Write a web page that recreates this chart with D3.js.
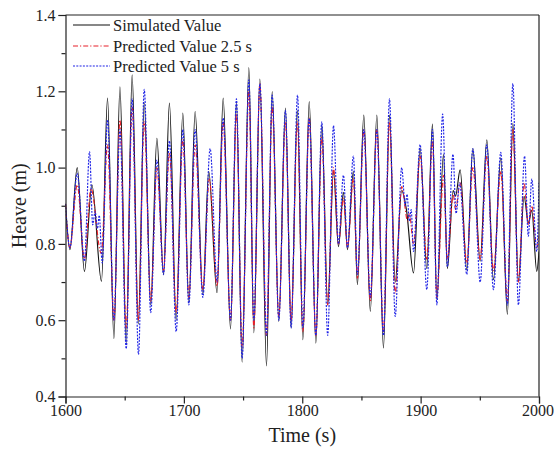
<!DOCTYPE html>
<html>
<head>
<meta charset="utf-8">
<script src="https://cdn.jsdelivr.net/npm/d3@7/dist/d3.min.js"></script>
<style>
  html, body { margin: 0; padding: 0; background: #fff; }
  svg { display: block; }
  text { font-family: "Liberation Serif", "Times New Roman", serif; fill: #222; }
</style>
</head>
<body>
<svg id="chart" width="554" height="460"></svg>
<script>
// ---- Data ----
const seriesNames = ["Simulated Value", "Predicted Value 2.5 s", "Predicted Value 5 s"];

const simTime = [1600,1603.7,1609.9,1616,1622.3,1630.4,1635.5,1640.9,1646,1651.3,1656.3,1661.5,1666.5,1672,1677.2,1682.8,1687.8,1693.5,1699.1,1704.2,1709.5,1716,1721,1728,1733.2,1739.4,1744.4,1749.2,1754.9,1759.1,1764.2,1769.8,1774.6,1780.2,1785.8,1790.6,1795.9,1800.5,1805.9,1811.5,1816.5,1821.5,1826.4,1830.6,1834.8,1838.2,1843.2,1846.6,1852,1857.5,1863,1868.6,1873.7,1878.5,1884,1888,1894,1899.6,1905.2,1910,1913.7,1919.3,1922.6,1927.5,1929.5,1933.4,1939,1944.1,1950.3,1955.9,1961.5,1967.7,1973.3,1977.9,1982.6,1987.4,1991,1993.9,1998.1,2000];
const simHeave = [0.905,0.785,1.0,0.728,0.955,0.702,1.182,0.552,1.212,0.54,1.243,0.59,1.17,0.64,1.077,0.719,1.169,0.6,1.143,0.645,1.147,0.667,0.99,0.672,1.182,0.577,1.17,0.49,1.262,0.567,1.232,0.48,1.199,0.597,1.156,0.58,1.15,0.549,1.173,0.54,1.112,0.64,0.99,0.793,0.935,0.785,0.99,0.693,1.138,0.623,1.138,0.527,1.138,0.70,0.94,0.89,0.724,1.051,0.735,1.114,0.654,1.035,0.735,0.94,0.925,0.994,0.732,1.05,0.755,1.073,0.706,1.025,0.615,1.116,0.702,0.925,0.855,0.888,0.728,0.78];

const pred25Time = [1600,1603.7,1609.9,1616,1621.5,1630.2,1635.5,1640.9,1646,1651.3,1656.3,1661.5,1666.5,1672,1677.2,1682.8,1687.8,1693.5,1699.1,1704.2,1709.5,1716,1721.5,1728,1733.2,1739.4,1744.4,1749.2,1754.9,1759.1,1764.2,1769.8,1774.6,1780.2,1785.8,1790.6,1795.9,1800.5,1805.9,1811.5,1816.5,1821.5,1826.4,1830.6,1834.8,1838.2,1843.2,1846.6,1852,1857.5,1863,1868.6,1873.7,1878.5,1884,1889,1890.5,1894,1899.6,1905.2,1910,1913.7,1919.3,1922.6,1927.5,1929.5,1933.4,1939,1944.1,1950.3,1955.9,1961.5,1967.7,1973.3,1977.9,1982.6,1987.4,1991,1993.9,1998.1,2000];
const pred25Heave = [0.905,0.79,0.955,0.76,0.945,0.775,1.06,0.60,1.125,0.58,1.16,0.60,1.12,0.65,1.00,0.73,1.04,0.62,1.075,0.66,1.06,0.68,0.97,0.69,1.12,0.60,1.14,0.53,1.20,0.58,1.22,0.56,1.16,0.61,1.12,0.60,1.12,0.57,1.13,0.56,1.08,0.64,1.0,0.80,0.92,0.79,0.97,0.71,1.10,0.65,1.10,0.57,1.12,0.67,0.95,0.86,0.88,0.80,1.03,0.76,1.07,0.66,0.98,0.76,0.93,0.89,0.96,0.75,1.00,0.76,1.03,0.73,0.99,0.65,1.10,0.70,0.96,0.85,0.90,0.79,0.82];

const pred5Time = [1600,1603.7,1609.9,1616,1620.3,1623,1625,1627,1628.5,1631,1635.5,1640.9,1646,1651.3,1656.3,1661.7,1666.5,1672,1677.2,1682.8,1687.8,1693.5,1699.1,1704.2,1709.5,1716,1722.2,1728,1733.2,1739.4,1744.4,1749.2,1754.9,1759.1,1764.2,1769.8,1774.6,1780.2,1785.8,1790.6,1796,1800.5,1805.9,1811.5,1816.5,1821.5,1826.4,1830.6,1834.8,1838.2,1843.2,1846.6,1852,1857.5,1863,1868.6,1873.7,1878.5,1884,1887,1888.5,1890.5,1892,1894,1899.6,1905.2,1910,1913.7,1918.6,1922.6,1927.3,1930,1933,1939,1944.1,1950.3,1955.9,1961.5,1967.7,1973.3,1977.9,1982.6,1987.8,1991,1993.9,1998.1,2000];
const pred5Heave = [0.905,0.79,0.985,0.755,1.042,0.85,0.885,0.84,0.875,0.75,1.125,0.60,1.10,0.525,1.18,0.51,1.205,0.62,1.02,0.72,1.07,0.57,1.10,0.64,1.10,0.66,1.05,0.70,1.13,0.60,1.18,0.50,1.23,0.60,1.22,0.56,1.19,0.60,1.15,0.58,1.19,0.58,1.13,0.56,1.12,0.56,1.11,0.80,0.98,0.79,1.03,0.72,1.10,0.66,1.10,0.56,1.18,0.61,1.00,0.90,0.93,0.86,0.89,0.78,1.06,0.68,1.10,0.64,1.14,0.74,1.035,0.88,0.96,0.72,1.05,0.70,1.06,0.68,1.04,0.64,1.22,0.64,1.03,0.82,0.97,0.78,0.96];

const xTickValues = [1600, 1700, 1800, 1900, 2000];
const xMinorValues = [1650, 1750, 1850, 1950];
const yTickValues = [0.4, 0.6, 0.8, 1.0, 1.2, 1.4];
const yMinorValues = [0.5, 0.7, 0.9, 1.1, 1.3];

(function () {
// ---- Layout ----
const svg = d3.select("#chart");
const pLeft = 65.5, pRight = 539, pTop = 15, pBottom = 396.5;

const x = d3.scaleLinear().domain([1600, 2000]).range([pLeft, pRight]);
const y = d3.scaleLinear().domain([0.4, 1.4]).range([pBottom, pTop]);

svg.append("defs").append("clipPath").attr("id", "clip")
  .append("rect").attr("x", pLeft).attr("y", pTop).attr("width", pRight - pLeft).attr("height", pBottom - pTop);

const line = d3.line().x(d => x(d[0])).y(d => y(d[1])).curve(d3.curveMonotoneX);
const zip = (a, b) => a.map((t, i) => [t, b[i]]);

const series = [
  { name: seriesNames[0], data: zip(simTime, simHeave), color: "#111", dash: null, width: 1.15 },
  { name: seriesNames[1], data: zip(pred25Time, pred25Heave), color: "#e8202a", dash: "5,2,1.2,2", width: 1.15 },
  { name: seriesNames[2], data: zip(pred5Time, pred5Heave), color: "#1f23e6", dash: "2,1.3", width: 1.15 }
];

const g = svg.append("g").attr("clip-path", "url(#clip)");
series.forEach(s => {
  g.append("path")
    .attr("d", line(s.data))
    .attr("fill", "none")
    .attr("stroke", s.color)
    .attr("stroke-width", s.width)
    .attr("stroke-dasharray", s.dash);
});

// ---- Axes ----
const fontSize = 16;
const xAxis = d3.axisBottom(x).tickValues(xTickValues).tickSize(7).tickPadding(1).tickFormat(d3.format("d"));
const xMinor = d3.axisBottom(x).tickValues(xMinorValues).tickSize(4).tickFormat("");
const yAxis = d3.axisLeft(y).tickValues(yTickValues).tickSize(7).tickPadding(3).tickFormat(d3.format(".1f"));
const yMinor = d3.axisLeft(y).tickValues(yMinorValues).tickSize(4).tickFormat("");

function styleAxis(sel) {
  sel.selectAll("path, line").attr("stroke", "#222").attr("stroke-width", 1.2);
  sel.selectAll("text").attr("font-size", fontSize).attr("fill", "#222")
    .style("font-family", "'Liberation Serif', 'Times New Roman', serif");
}

const gx = svg.append("g").attr("transform", `translate(0,${pBottom})`).call(xAxis).call(styleAxis);
gx.selectAll(".tick text").filter(d => d === 2000).attr("dx", -1.5);
svg.append("g").attr("transform", `translate(0,${pBottom})`).call(xMinor).call(styleAxis).select(".domain").remove();
svg.append("g").attr("transform", `translate(${pLeft},0)`).call(yAxis).call(styleAxis);
svg.append("g").attr("transform", `translate(${pLeft},0)`).call(yMinor).call(styleAxis).select(".domain").remove();

// frame (top & right)
svg.append("line").attr("x1", pLeft).attr("x2", pRight).attr("y1", pTop).attr("y2", pTop).attr("stroke", "#222").attr("stroke-width", 1.2);
svg.append("line").attr("x1", pRight).attr("x2", pRight).attr("y1", pTop).attr("y2", pBottom).attr("stroke", "#222").attr("stroke-width", 1.2);

// axis titles
svg.append("text").attr("x", (pLeft + pRight) / 2).attr("y", 442).attr("text-anchor", "middle")
  .attr("font-size", 20).text("Time (s)");
svg.append("text").attr("transform", `translate(26,${(pTop + pBottom) / 2}) rotate(-90)`).attr("text-anchor", "middle")
  .attr("font-size", 20).text("Heave (m)");

// ---- Legend ----
const legendY = [25, 46, 66];
series.forEach((s, i) => {
  svg.append("line").attr("x1", 73).attr("x2", 110).attr("y1", legendY[i]).attr("y2", legendY[i])
    .attr("stroke", s.color).attr("stroke-width", s.width).attr("stroke-dasharray", s.dash);
  svg.append("text").attr("x", 113).attr("y", legendY[i] + 5.5).attr("font-size", 16.5).text(s.name);
});
})();
</script>
</body>
</html>
